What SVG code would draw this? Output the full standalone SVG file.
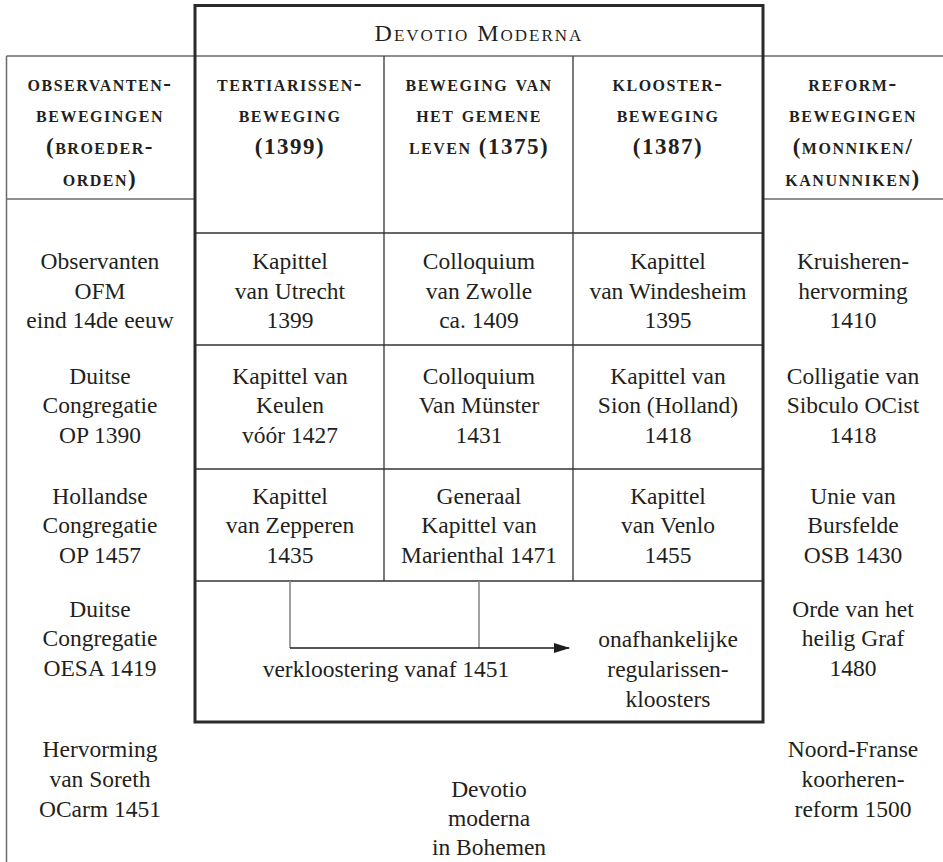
<svg xmlns="http://www.w3.org/2000/svg" width="943" height="862" viewBox="0 0 943 862">
  <defs>
    <marker id="head" viewBox="0 0 16 10" refX="15" refY="5" markerWidth="16" markerHeight="10" markerUnits="userSpaceOnUse" orient="auto">
      <path d="M0,0 L16,5 L0,10 Z" fill="#1e1e1e"/>
    </marker>
  </defs>
  <style>
    .t{font-family:"Liberation Serif","Times New Roman",serif;font-size:23.5px;fill:#231f20;text-anchor:middle}
    .h{font-family:"Liberation Serif","Times New Roman",serif;font-size:23px;font-weight:bold;font-variant:small-caps;letter-spacing:1.5px;fill:#231f20;text-anchor:middle}
    .title{font-family:"Liberation Serif","Times New Roman",serif;font-size:24px;font-variant:small-caps;letter-spacing:2px;fill:#231f20;text-anchor:middle}
    .frame{fill:none;stroke:#2a2a2a;stroke-width:3}
    .grid{stroke:#333;stroke-width:1.3;fill:none}
    .rule{stroke:#6a6a6a;stroke-width:1.5;fill:none}
    .link{stroke:#8a8a8a;stroke-width:1.6;fill:none}
    .flow{stroke:#1e1e1e;stroke-width:1.3;fill:none}
  </style>
  <rect width="943" height="862" fill="#ffffff"/>

  <!-- rules of the outer columns -->
  <g id="rules">
    <line class="rule" x1="6.5" y1="56" x2="943" y2="56"/>
    <line class="rule" x1="6.5" y1="199" x2="195" y2="199"/>
    <line class="rule" x1="763" y1="199" x2="943" y2="199"/>
    <line class="rule" x1="6.5" y1="56" x2="6.5" y2="862"/>
  </g>

  <!-- grid inside the Devotio Moderna frame -->
  <g id="grid">
    <line class="grid" x1="384" y1="56" x2="384" y2="581"/>
    <line class="grid" x1="573" y1="56" x2="573" y2="581"/>
    <line class="grid" x1="195" y1="233" x2="763" y2="233"/>
    <line class="grid" x1="195" y1="345" x2="763" y2="345"/>
    <line class="grid" x1="195" y1="469" x2="763" y2="469"/>
    <line class="grid" x1="195" y1="581" x2="763" y2="581"/>
  </g>

  <rect id="frame" class="frame" x="195" y="5.5" width="568" height="716.5"/>

  <g id="title">
    <text class="title" x="479" y="41">Devotio Moderna</text>
  </g>

  <!-- column heads -->
  <g id="head-observanten">
    <text class="h"><tspan x="100" y="91">observanten-</tspan><tspan x="100" y="122">bewegingen</tspan><tspan x="100" y="154">(broeder-</tspan><tspan x="100" y="186">orden)</tspan></text>
  </g>
  <g id="head-tertiarissen">
    <text class="h"><tspan x="290" y="91">tertiarissen-</tspan><tspan x="290" y="122">beweging</tspan><tspan x="290" y="154">(1399)</tspan></text>
  </g>
  <g id="head-gemene-leven">
    <text class="h"><tspan x="479" y="91">beweging van</tspan><tspan x="479" y="122">het gemene</tspan><tspan x="479" y="154">leven (1375)</tspan></text>
  </g>
  <g id="head-klooster">
    <text class="h"><tspan x="668" y="91">klooster-</tspan><tspan x="668" y="122">beweging</tspan><tspan x="668" y="154">(1387)</tspan></text>
  </g>
  <g id="head-reform">
    <text class="h"><tspan x="853" y="91">reform-</tspan><tspan x="853" y="122">bewegingen</tspan><tspan x="853" y="154">(monniken/</tspan><tspan x="853" y="186">kanunniken)</tspan></text>
  </g>

  <!-- row 1 -->
  <g id="observanten-ofm">
    <text class="t"><tspan x="100" y="269">Observanten</tspan><tspan x="100" y="299">OFM</tspan><tspan x="100" y="328">eind 14de eeuw</tspan></text>
  </g>
  <g id="kapittel-utrecht">
    <text class="t"><tspan x="290" y="269">Kapittel</tspan><tspan x="290" y="299">van Utrecht</tspan><tspan x="290" y="328">1399</tspan></text>
  </g>
  <g id="colloquium-zwolle">
    <text class="t"><tspan x="479" y="269">Colloquium</tspan><tspan x="479" y="299">van Zwolle</tspan><tspan x="479" y="328">ca. 1409</tspan></text>
  </g>
  <g id="kapittel-windesheim">
    <text class="t"><tspan x="668" y="269">Kapittel</tspan><tspan x="668" y="299">van Windesheim</tspan><tspan x="668" y="328">1395</tspan></text>
  </g>
  <g id="kruisheren">
    <text class="t"><tspan x="853" y="269">Kruisheren-</tspan><tspan x="853" y="299">hervorming</tspan><tspan x="853" y="328">1410</tspan></text>
  </g>

  <!-- row 2 -->
  <g id="duitse-op">
    <text class="t"><tspan x="100" y="384">Duitse</tspan><tspan x="100" y="413">Congregatie</tspan><tspan x="100" y="443">OP 1390</tspan></text>
  </g>
  <g id="kapittel-keulen">
    <text class="t"><tspan x="290" y="384">Kapittel van</tspan><tspan x="290" y="413">Keulen</tspan><tspan x="290" y="443">vóór 1427</tspan></text>
  </g>
  <g id="colloquium-munster">
    <text class="t"><tspan x="479" y="384">Colloquium</tspan><tspan x="479" y="413">Van Münster</tspan><tspan x="479" y="443">1431</tspan></text>
  </g>
  <g id="kapittel-sion">
    <text class="t"><tspan x="668" y="384">Kapittel van</tspan><tspan x="668" y="413">Sion (Holland)</tspan><tspan x="668" y="443">1418</tspan></text>
  </g>
  <g id="colligatie-sibculo">
    <text class="t"><tspan x="853" y="384">Colligatie van</tspan><tspan x="853" y="413">Sibculo OCist</tspan><tspan x="853" y="443">1418</tspan></text>
  </g>

  <!-- row 3 -->
  <g id="hollandse-op">
    <text class="t"><tspan x="100" y="504">Hollandse</tspan><tspan x="100" y="533">Congregatie</tspan><tspan x="100" y="563">OP 1457</tspan></text>
  </g>
  <g id="kapittel-zepperen">
    <text class="t"><tspan x="290" y="504">Kapittel</tspan><tspan x="290" y="533">van Zepperen</tspan><tspan x="290" y="563">1435</tspan></text>
  </g>
  <g id="kapittel-marienthal">
    <text class="t"><tspan x="479" y="504">Generaal</tspan><tspan x="479" y="533">Kapittel van</tspan><tspan x="479" y="563">Marienthal 1471</tspan></text>
  </g>
  <g id="kapittel-venlo">
    <text class="t"><tspan x="668" y="504">Kapittel</tspan><tspan x="668" y="533">van Venlo</tspan><tspan x="668" y="563">1455</tspan></text>
  </g>
  <g id="unie-bursfelde">
    <text class="t"><tspan x="853" y="504">Unie van</tspan><tspan x="853" y="533">Bursfelde</tspan><tspan x="853" y="563">OSB 1430</tspan></text>
  </g>

  <!-- row 4 -->
  <g id="duitse-oesa">
    <text class="t"><tspan x="100" y="617">Duitse</tspan><tspan x="100" y="646">Congregatie</tspan><tspan x="100" y="676">OESA 1419</tspan></text>
  </g>
  <g id="verkloostering">
    <text class="t" x="386" y="677">verkloostering vanaf 1451</text>
  </g>
  <g id="regularissen">
    <text class="t"><tspan x="668" y="647">onafhankelijke</tspan><tspan x="668" y="677">regularissen-</tspan><tspan x="668" y="707">kloosters</tspan></text>
  </g>
  <g id="heilig-graf">
    <text class="t"><tspan x="853" y="617">Orde van het</tspan><tspan x="853" y="646">heilig Graf</tspan><tspan x="853" y="676">1480</tspan></text>
  </g>

  <!-- below the frame -->
  <g id="soreth">
    <text class="t"><tspan x="100" y="757">Hervorming</tspan><tspan x="100" y="787">van Soreth</tspan><tspan x="100" y="817">OCarm 1451</tspan></text>
  </g>
  <g id="bohemen">
    <text class="t"><tspan x="489" y="797">Devotio</tspan><tspan x="489" y="826">moderna</tspan><tspan x="489" y="855">in Bohemen</tspan></text>
  </g>
  <g id="koorheren">
    <text class="t"><tspan x="853" y="757">Noord-Franse</tspan><tspan x="853" y="787">koorheren-</tspan><tspan x="853" y="817">reform 1500</tspan></text>
  </g>

  <!-- connectors: chapters to independent regular houses -->
  <g id="connectors">
    <line class="link" x1="290" y1="581" x2="290" y2="648"/>
    <line class="link" x1="479" y1="581" x2="479" y2="648"/>
    <line class="flow" x1="290" y1="648" x2="569" y2="648" marker-end="url(#head)"/>
  </g>
</svg>
